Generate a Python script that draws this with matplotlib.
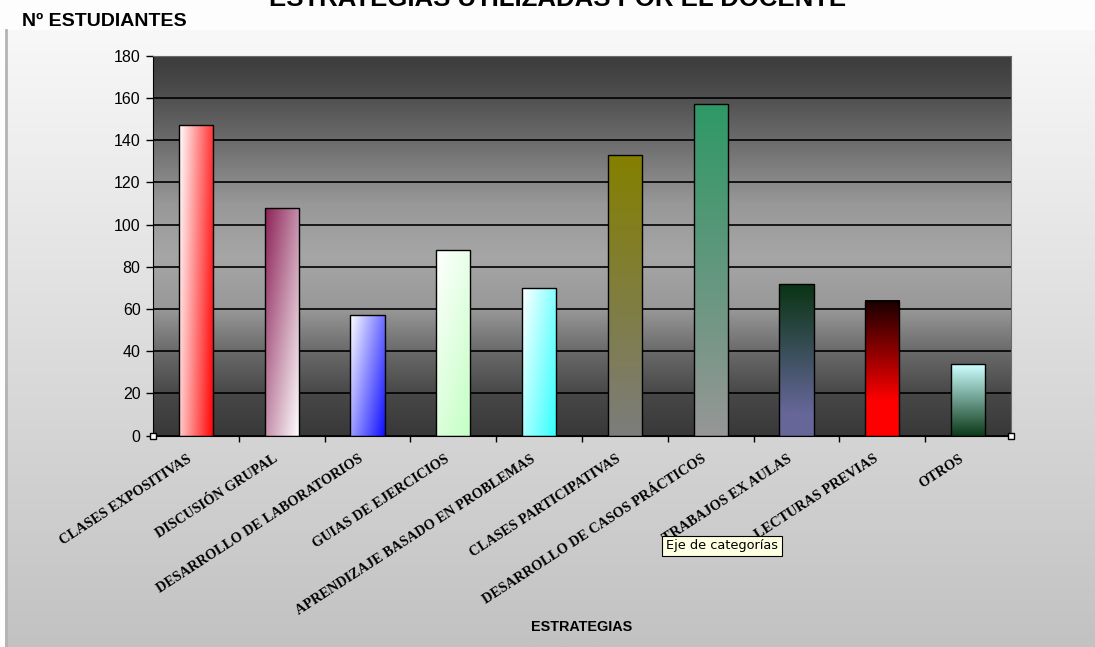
import numpy as np
import matplotlib.pyplot as plt
from matplotlib.colors import to_rgb
from matplotlib.transforms import ScaledTranslation

categories = [
    "CLASES EXPOSITIVAS",
    "DISCUSIÓN GRUPAL",
    "DESARROLLO DE LABORATORIOS",
    "GUIAS DE EJERCICIOS",
    "APRENDIZAJE BASADO EN PROBLEMAS",
    "CLASES PARTICIPATIVAS",
    "DESARROLLO DE CASOS PRÁCTICOS",
    "TRABAJOS EX AULAS",
    "LECTURAS PREVIAS",
    "OTROS",
]
students = [147, 108, 57, 88, 70, 133, 157, 72, 64, 34]
y_ticks = list(range(0, 181, 20))

# gradient fill of each bar: start colour, end colour,
# weight across (left->right), weight down (top->bottom), where the end colour is reached
bar_fills = [
    ("#ffffff", "#ff0000", 0.8, 0.2, 1.0),
    ("#8c2257", "#ffffff", 0.5, 0.5, 1.0),
    ("#ffffff", "#1010ff", 0.6, 0.4, 1.0),
    ("#ffffff", "#c4ffc4", 0.4, 0.6, 1.0),
    ("#ffffff", "#30ffff", 0.6, 0.4, 1.0),
    ("#858000", "#7c7c7c", 0.0, 1.0, 1.0),
    ("#2f9966", "#969696", 0.0, 1.0, 1.0),
    ("#0a3514", "#666699", 0.0, 1.0, 0.85),
    ("#1a0000", "#ff0000", 0.0, 1.0, 0.75),
    ("#ccffff", "#0d3a1a", 0.0, 1.0, 1.0),
]

W, H = 1095, 647
fig = plt.figure(figsize=(W / 100, H / 100), dpi=100)
fig.patch.set_facecolor("#fdfdfd")

# chart area backdrop: light grey fading downwards
bg = fig.add_axes([0, 0, 1, 1], zorder=-10)
bg.set_xlim(0, W)
bg.set_ylim(H, 0)
bg.axis("off")
shade = np.linspace(0xf8, 0xc2, 256) / 255
bg.imshow(np.repeat(shade[:, None, None], 3, axis=2), extent=(5, W, H, 30),
          aspect="auto", interpolation="bilinear")
bg.plot([6, 6], [30, H], color="#b4b4b4", lw=2)

# plot area
ax = fig.add_axes([153 / W, (H - 435.7) / H, (1011 - 153) / W, 380 / H])
ax.set_xlim(-0.5, 9.5)
ax.set_ylim(0, 180)

yy = np.linspace(0, 180, 400)
lev = np.interp(yy, [0, 20, 40, 60, 85, 110, 140, 165, 180],
                [0x38, 0x48, 0x6a, 0x98, 0xa6, 0x98, 0x6c, 0x4a, 0x3c]) / 255
ax.imshow(np.repeat(lev[:, None, None], 3, axis=2), extent=(-0.5, 9.5, 0, 180),
          origin="lower", aspect="auto", interpolation="bilinear", zorder=0)

x = np.arange(len(categories))
bw = 0.4
bars = ax.bar(x, students, width=bw, facecolor="none", edgecolor="black",
              lw=1, zorder=3)

n = 64
U, V = np.meshgrid(np.linspace(0, 1, n), np.linspace(0, 1, n))
for xi, val, (c0, c1, wu, wv, stop) in zip(x, students, bar_fills):
    t = (wu * U + wv * V) / (wu + wv)
    t = np.clip(t / stop, 0, 1)[..., None]
    a, b = np.array(to_rgb(c0)), np.array(to_rgb(c1))
    img = a + (b - a) * t
    ax.imshow(img, extent=(xi - bw / 2, xi + bw / 2, 0, val), origin="upper",
              aspect="auto", interpolation="bilinear", zorder=2.5)

ax.set_xlim(-0.5, 9.5)
ax.set_ylim(0, 180)
ax.set_aspect("auto")

ax.set_yticks(y_ticks)
ax.yaxis.grid(True, color="black", lw=1.2)
ax.set_axisbelow(True)
for gl in ax.get_ygridlines():
    gl.set_zorder(1)
ax.tick_params(axis="y", direction="out", length=5, width=1, pad=4,
               labelsize=11.5)
for lab in ax.get_yticklabels():
    lab.set_fontfamily("Liberation Sans")

ax.set_xticks(x)
ax.set_xticks(np.arange(0.5, 9.5, 1), minor=True)
ax.set_xticklabels(categories, rotation=33, ha="right", va="top",
                   rotation_mode="anchor", fontfamily="Liberation Serif",
                   fontweight="bold", fontsize=10.3)
ax.tick_params(axis="x", which="major", length=0, pad=12)
ax.tick_params(axis="x", which="minor", direction="out", length=4, width=1)
shift = ScaledTranslation(-9 / 100, 0, fig.dpi_scale_trans)
for lab in ax.get_xticklabels():
    lab.set_transform(lab.get_transform() + shift)

for side in ("left", "bottom"):
    ax.spines[side].set_color("black")
for side in ("top", "right"):
    ax.spines[side].set_color("#6a6a6a")

# selection handles at the ends of the category axis
ax.plot([-0.5, 9.5], [0, 0], "s", ms=4, mfc="white", mec="black", mew=1,
        clip_on=False, zorder=6)

fig.text(558 / W, 1 - 6 / H, "ESTRATEGIAS UTILIZADAS POR EL DOCENTE",
         ha="center", va="baseline", fontsize=18.5, fontweight="bold",
         family="Liberation Sans")
fig.text(22 / W, 1 - 26 / H, "Nº ESTUDIANTES", ha="left", va="baseline",
         fontsize=14, fontweight="bold", family="Liberation Sans")
fig.text(582 / W, 1 - 627 / H, "ESTRATEGIAS", ha="center", va="center",
         fontsize=10.4, fontweight="bold", family="Liberation Sans")
fig.text(666 / W, 1 - 546 / H, "Eje de categorías", ha="left", va="center",
         fontsize=9.3, family="DejaVu Sans",
         bbox=dict(boxstyle="square,pad=0.3", fc="#ffffe1", ec="black", lw=0.8))

fig.savefig("out.png", dpi=100)
